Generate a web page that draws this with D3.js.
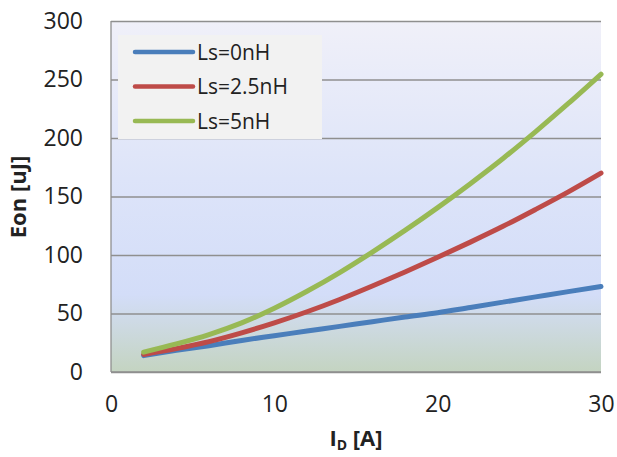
<!DOCTYPE html>
<html>
<head>
<meta charset="utf-8">
<script src="https://cdn.jsdelivr.net/npm/d3@7"></script>
<style>
  body { margin:0; background:#fff; }
  text { font-family:"Open Sans", sans-serif; fill:#222; }
</style>
</head>
<body>
<svg id="chart" width="617" height="457"></svg>
<script>
// data
const current = [2, 4, 6, 8, 10, 12, 14, 16, 18, 20, 22, 24, 26, 28, 30];
const ls0 = [14, 18.5, 22.5, 27, 31, 35, 39, 43, 47, 50.7, 55.2, 59.7, 64.2, 68.7, 73];
const ls25 = [15, 20, 26, 33.5, 42, 51.5, 62, 73.5, 85.5, 98, 111, 124.5, 139, 154, 170];
const ls5 = [17, 24, 32, 42, 54.5, 69, 85, 102.5, 121, 140.5, 161, 182.5, 205.5, 229.5, 254.5];
const seriesNames = ["Ls=0nH", "Ls=2.5nH", "Ls=5nH"];
const xTicks = [0, 10, 20, 30];
const yTicks = [0, 50, 100, 150, 200, 250, 300];

const COLOR = ["#4a7ebb", "#be4b48", "#98b954"];
const series = [ls0, ls25, ls5];

const margin = {top:21, right:16, bottom:85, left:111};
const W = 617, H = 457;
const innerW = W - margin.left - margin.right;
const innerH = H - margin.top - margin.bottom;

const svg = d3.select("#chart");

const defs = svg.append("defs");
const grad = defs.append("linearGradient")
  .attr("id","bg")
  .attr("x1",0).attr("y1",0).attr("x2",0).attr("y2",1);
[["0%","#f0f0f9"],["45%","#dde4f9"],["78%","#d3ddf8"],["100%","#c4d4c1"]]
  .forEach(s => grad.append("stop").attr("offset",s[0]).attr("stop-color",s[1]));

const g = svg.append("g")
  .attr("transform",`translate(${margin.left},${margin.top})`);

const x = d3.scaleLinear().domain([0,30]).range([0,innerW]);
const y = d3.scaleLinear().domain([0,300]).range([innerH,0]);

g.append("rect")
  .attr("width",innerW)
  .attr("height",innerH)
  .attr("fill","url(#bg)");

// gridlines
g.append("g")
  .call(d3.axisLeft(y).tickValues(yTicks).tickSize(-innerW).tickFormat(""))
  .call(a => a.select(".domain").remove())
  .selectAll("line")
  .attr("stroke","#8f8f8f")
  .attr("stroke-width",1.3);

// y labels
g.append("g")
  .call(d3.axisLeft(y).tickValues(yTicks).tickSize(0).tickPadding(28))
  .call(a => a.select(".domain").remove())
  .selectAll("text")
  .attr("font-size",23)
  .attr("font-family","'Open Sans', sans-serif")
  .attr("fill","#222");

// x labels
g.append("g")
  .attr("transform",`translate(0,${innerH})`)
  .call(d3.axisBottom(x).tickValues(xTicks).tickSize(0).tickPadding(24))
  .call(a => a.select(".domain").remove())
  .selectAll("text")
  .attr("font-size",23)
  .attr("font-family","'Open Sans', sans-serif")
  .attr("fill","#222");

// axis lines
g.append("line")
  .attr("x1",0).attr("x2",0).attr("y1",0).attr("y2",innerH)
  .attr("stroke","#8f8f8f").attr("stroke-width",1.3);
g.append("line")
  .attr("x1",0).attr("x2",innerW).attr("y1",innerH).attr("y2",innerH)
  .attr("stroke","#8f8f8f").attr("stroke-width",1.3);

const line = d3.line()
  .x((d,i) => x(current[i]))
  .y(d => y(d))
  .curve(d3.curveMonotoneX);

g.selectAll(".series")
  .data(series)
  .join("path")
  .attr("class","series")
  .attr("d",line)
  .attr("fill","none")
  .attr("stroke",(d,i) => COLOR[i])
  .attr("stroke-width",5)
  .attr("stroke-linecap","round")
  .attr("stroke-linejoin","round");

// legend
const lg = svg.append("g").attr("transform","translate(118,35)");
lg.append("rect")
  .attr("width",204).attr("height",104)
  .attr("fill","#f2f2f2");
seriesNames.forEach((name,i) => {
  const cy = 17 + i*34.5;
  lg.append("line")
    .attr("x1",17).attr("x2",75)
    .attr("y1",cy).attr("y2",cy)
    .attr("stroke",COLOR[i])
    .attr("stroke-width",4.5)
    .attr("stroke-linecap","round");
  lg.append("text")
    .attr("x",79).attr("y",cy)
    .attr("dy","0.36em")
    .attr("font-size",21)
    .text(name);
});

// axis titles
svg.append("text")
  .attr("transform","translate(26,197) rotate(-90)")
  .attr("text-anchor","middle")
  .attr("font-size",22)
  .attr("font-weight","bold")
  .text("Eon [uJ]");

const xt = svg.append("text")
  .attr("x",356).attr("y",446)
  .attr("text-anchor","middle")
  .attr("font-size",22)
  .attr("font-weight","bold");
xt.append("tspan").text("I");
xt.append("tspan").attr("font-size",14).attr("dy",4).text("D");
xt.append("tspan").attr("dy",-4).text(" [A]");
</script>
</body>
</html>
